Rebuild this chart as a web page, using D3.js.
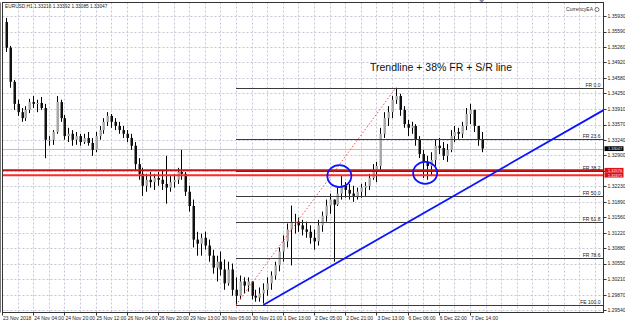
<!DOCTYPE html>
<html>
<head>
<meta charset="utf-8">
<script src="https://cdnjs.cloudflare.com/ajax/libs/d3/7.8.5/d3.min.js"></script>
<style>
body { margin: 0; background: #fff; }
svg { display: block; font-family: "Liberation Sans", Arial, sans-serif; }
</style>
</head>
<body>
<div id="chart"></div>
<script>
var symbolText = "EURUSD,H1 1.33216 1.33392 1.33085 1.33047";
var brandText = "CurrencyEA";
var titleText = "Trendline + 38% FR + S/R line";

// hourly candles, sampled every 2 hours; open = previous close
var firstOpen = 1.3580;
var highs = [
  1.3589,1.3528,1.3454,1.3411,1.3393,1.3397,1.3413,1.3419,1.3411,1.3417,
  1.3402,1.3332,1.3345,1.3419,1.3411,1.3378,1.3350,1.3345,1.3341,1.3337,
  1.3337,1.3341,1.3328,1.3341,1.3354,1.3371,1.3384,1.3380,1.3371,1.3363,
  1.3354,1.3345,1.3337,1.3319,1.3284,1.3263,1.3250,1.3254,1.3250,1.3254,
  1.3258,1.3289,1.3245,1.3250,1.3263,1.3302,1.3254,1.3224,1.3194,1.3124,
  1.3120,1.3124,1.3107,1.3085,1.3072,1.3081,1.3064,1.3059,1.3055,1.3025,
  1.3029,1.3025,1.3025,1.3016,1.2998,1.3003,1.3012,1.3025,1.3038,1.3059,
  1.3090,1.3116,1.3142,1.3181,1.3163,1.3155,1.3150,1.3146,1.3138,1.3129,
  1.3150,1.3168,1.3194,1.3207,1.3194,1.3220,1.3245,1.3232,1.3228,1.3224,
  1.3220,1.3228,1.3232,1.3250,1.3271,1.3276,1.3350,1.3384,1.3397,1.3419,
  1.3437,1.3424,1.3397,1.3367,1.3363,1.3358,1.3332,1.3302,1.3289,1.3297,
  1.3324,1.3328,1.3319,1.3315,1.3345,1.3354,1.3350,1.3363,1.3393,1.3402,
  1.3389,1.3354,1.3341];
var lows = [
  1.3515,1.3437,1.3389,1.3376,1.3363,1.3365,1.3382,1.3393,1.3384,1.3389,
  1.3284,1.3311,1.3313,1.3337,1.3363,1.3324,1.3319,1.3311,1.3313,1.3311,
  1.3315,1.3311,1.3289,1.3297,1.3324,1.3337,1.3354,1.3350,1.3345,1.3337,
  1.3328,1.3319,1.3302,1.3258,1.3237,1.3202,1.3211,1.3220,1.3215,1.3224,
  1.3215,1.3185,1.3211,1.3220,1.3228,1.3237,1.3202,1.3168,1.3090,1.3072,
  1.3072,1.3085,1.3059,1.3033,1.3016,1.3029,1.2998,1.3007,1.2985,1.2965,
  1.2977,1.2990,1.2994,1.2977,1.2972,1.2972,1.2968,1.2985,1.2998,1.3020,
  1.3038,1.3059,1.3090,1.3051,1.3120,1.3124,1.3116,1.3111,1.3098,1.3085,
  1.3094,1.3124,1.3146,1.3163,1.3059,1.3180,1.3194,1.3198,1.3194,1.3189,
  1.3194,1.3198,1.3202,1.3215,1.3237,1.3232,1.3254,1.3328,1.3354,1.3371,
  1.3402,1.3376,1.3350,1.3332,1.3337,1.3311,1.3284,1.3241,1.3237,1.3245,
  1.3267,1.3293,1.3280,1.3276,1.3297,1.3319,1.3324,1.3328,1.3345,1.3358,
  1.3341,1.3311,1.3297];
var closes = [
  1.3524,1.3450,1.3402,1.3384,1.3371,1.3389,1.3406,1.3402,1.3404,1.3393,
  1.3324,1.3324,1.3341,1.3406,1.3371,1.3332,1.3337,1.3324,1.3332,1.3319,
  1.3328,1.3317,1.3302,1.3332,1.3345,1.3363,1.3376,1.3363,1.3354,1.3345,
  1.3337,1.3328,1.3311,1.3271,1.3250,1.3224,1.3237,1.3232,1.3241,1.3237,
  1.3228,1.3220,1.3232,1.3237,1.3254,1.3250,1.3211,1.3180,1.3107,1.3098,
  1.3111,1.3094,1.3072,1.3046,1.3059,1.3042,1.3012,1.3042,1.2998,1.2985,
  1.3016,1.3007,1.3016,1.2985,1.2981,1.2990,1.2998,1.3012,1.3029,1.3051,
  1.3081,1.3103,1.3129,1.3146,1.3146,1.3138,1.3129,1.3124,1.3111,1.3103,
  1.3138,1.3159,1.3181,1.3194,1.3183,1.3207,1.3224,1.3215,1.3207,1.3202,
  1.3211,1.3220,1.3224,1.3241,1.3258,1.3267,1.3337,1.3371,1.3384,1.3411,
  1.3419,1.3389,1.3358,1.3350,1.3354,1.3324,1.3293,1.3276,1.3267,1.3280,
  1.3311,1.3306,1.3289,1.3302,1.3332,1.3341,1.3337,1.3354,1.3380,1.3389,
  1.3354,1.3324,1.3305];

var priceTicks = ["1.35930","1.35590","1.35260","1.34920","1.34580","1.34250","1.33910",
  "1.33570","1.33240","1.32900","1.32560","1.32230","1.31890","1.31560","1.31220",
  "1.30880","1.30550","1.30210","1.29870","1.29540"];
var timeLabels = ["23 Nov 2018","24 Nov 04:00","24 Nov 20:00","25 Nov 12:00","26 Nov 04:00",
  "26 Nov 20:00","29 Nov 13:00","30 Nov 05:00","30 Nov 21:00","1 Dec 13:00","2 Dec 05:00",
  "2 Dec 21:00","3 Dec 13:00","6 Dec 06:00","6 Dec 22:00","7 Dec 14:00"];

var frLevels = [0, 23.6, 38.2, 50, 61.8, 78.6, 100];
var frNames = ["FR 0.0","FR 23.6","FR 38.2","FR 50.0","FR 61.8","FR 78.6","FE 100.0"];
var fibFrom = 59, fibTo = 100;          // candle indices of swing low / high
var srLevels = [1.32576, 1.32471];
var lastPrice = 1.33047;
var trendPoints = [[134, 1.2965], [209, 1.3147]];   // [hour, price]
var circleCenters = [[173, 1.3245], [217, 1.3252]];  // [hour, price]

var W = 625, H = 323;
var pLeft = 2.5, pRight = 603.5, pTop = 2.5, pBottom = 312.5;

var svg = d3.select("#chart").append("svg")
  .attr("width", W).attr("height", H);

var x = d3.scaleLinear().domain([0, 240]).range([2, 470]);
var y = d3.scaleLinear().domain([1.29540, 1.35930]).range([310, 16]);
var hourOf = function(i){ return 2 + 2 * i; };
var rightHour = x.invert(pRight);

var candles = closes.map(function(c, i){
  return { i: i, o: i === 0 ? firstOpen : closes[i - 1], h: highs[i], l: lows[i], c: c };
});

svg.append("defs").append("clipPath").attr("id", "plot")
  .append("rect").attr("x", pLeft).attr("y", pTop)
  .attr("width", pRight - pLeft).attr("height", pBottom - pTop);

// grid
var grid = svg.append("g").attr("stroke", "#c6c6d6").attr("stroke-dasharray", "2,2")
  .attr("stroke-width", 1);
grid.selectAll(".hg").data(priceTicks).enter().append("line")
  .attr("x1", pLeft).attr("x2", pRight)
  .attr("y1", function(d){ return Math.round(y(+d)) + 0.5; })
  .attr("y2", function(d){ return Math.round(y(+d)) + 0.5; });
grid.selectAll(".vg").data(d3.range(8, rightHour, 8)).enter().append("line")
  .attr("y1", pTop).attr("y2", pBottom)
  .attr("x1", function(d){ return Math.round(x(d)) + 0.5; })
  .attr("x2", function(d){ return Math.round(x(d)) + 0.5; });

var plot = svg.append("g").attr("clip-path", "url(#plot)");

// bid line
plot.append("line").attr("x1", pLeft).attr("x2", pRight)
  .attr("y1", Math.round(y(lastPrice)) + 0.5).attr("y2", Math.round(y(lastPrice)) + 0.5)
  .attr("stroke", "#c0c0c0");

// candles
var cg = plot.append("g").selectAll("g").data(candles).enter().append("g");
cg.append("line")
  .attr("x1", function(d){ return Math.round(x(hourOf(d.i))) + 0.5; })
  .attr("x2", function(d){ return Math.round(x(hourOf(d.i))) + 0.5; })
  .attr("y1", function(d){ return y(d.h); })
  .attr("y2", function(d){ return y(d.l); })
  .attr("stroke", "#000").attr("stroke-width", 1);
cg.append("rect")
  .attr("x", function(d){ return Math.round(x(hourOf(d.i))) - 0.5; })
  .attr("width", 2.5)
  .attr("y", function(d){ return y(Math.max(d.o, d.c)); })
  .attr("height", function(d){ return Math.max(1, Math.abs(y(d.o) - y(d.c))); })
  .attr("fill", function(d){ return d.c >= d.o ? "#a8a8a8" : "#111"; });

// fibonacci
var fibHigh = d3.max(highs.slice(fibFrom, fibTo + 1));
var fibLow = d3.min(lows.slice(fibFrom, fibTo + 1));
var fibX = x(hourOf(fibFrom));
var fib = frLevels.map(function(lv, k){
  return { p: fibHigh - lv / 100 * (fibHigh - fibLow), name: frNames[k] };
});
plot.append("g").selectAll("line").data(fib).enter().append("line")
  .attr("x1", fibX).attr("x2", pRight)
  .attr("y1", function(d){ return Math.round(y(d.p)) + 0.5; })
  .attr("y2", function(d){ return Math.round(y(d.p)) + 0.5; })
  .attr("stroke", "#3a3a3a").attr("stroke-width", 1);
svg.append("g").selectAll("text").data(fib).enter().append("text")
  .attr("x", pRight - 3).attr("y", function(d){ return Math.round(y(d.p)) - 1; })
  .attr("text-anchor", "end").attr("font-size", 5).attr("fill", "#222")
  .text(function(d){ return d.name; });
plot.append("line")
  .attr("x1", fibX).attr("y1", y(fibLow))
  .attr("x2", x(hourOf(fibTo))).attr("y2", y(fibHigh))
  .attr("stroke", "#ff4a4a").attr("stroke-dasharray", "1.5,2").attr("stroke-width", 1);

// support / resistance lines
var srColors = ["#c41414", "#ff2a2a"];
plot.selectAll(".sr").data(srLevels).enter().append("line")
  .attr("x1", pLeft).attr("x2", pRight)
  .attr("y1", function(d){ return y(d); }).attr("y2", function(d){ return y(d); })
  .attr("stroke", function(d, k){ return srColors[k]; }).attr("stroke-width", 2);

// trendline extended to the right edge
var slope = (trendPoints[1][1] - trendPoints[0][1]) / (trendPoints[1][0] - trendPoints[0][0]);
var endPrice = trendPoints[0][1] + slope * (rightHour - trendPoints[0][0]);
plot.append("line")
  .attr("x1", x(trendPoints[0][0])).attr("y1", y(trendPoints[0][1]))
  .attr("x2", pRight).attr("y2", y(endPrice))
  .attr("stroke", "#0a14ff").attr("stroke-width", 1.8);

plot.selectAll("ellipse").data(circleCenters).enter().append("ellipse")
  .attr("cx", function(d){ return x(d[0]); }).attr("cy", function(d){ return y(d[1]); })
  .attr("rx", 12).attr("ry", 11)
  .attr("fill", "none").attr("stroke", "#0a14ff").attr("stroke-width", 1.8);

// title and corner texts
svg.append("text").attr("x", 370).attr("y", 71).attr("font-size", 10.5).attr("fill", "#111")
  .text(titleText);
svg.append("text").attr("x", 5).attr("y", 8).attr("font-size", 4.8).attr("fill", "#222")
  .text(symbolText);
svg.append("text").attr("x", 593).attr("y", 11).attr("font-size", 5).attr("fill", "#333")
  .attr("text-anchor", "end").text(brandText);
svg.append("circle").attr("cx", 597).attr("cy", 9.5).attr("r", 2)
  .attr("fill", "#fff").attr("stroke", "#555").attr("stroke-width", 0.8);
var lastX = x(hourOf(closes.length - 1));
svg.append("path").attr("d", d3.line()([[lastX - 2.5, 0], [lastX + 2.5, 0], [lastX, 3]]))
  .attr("fill", "#8888aa");

// frame
svg.append("rect").attr("x", pLeft).attr("y", pTop)
  .attr("width", pRight - pLeft).attr("height", pBottom - pTop)
  .attr("fill", "none").attr("stroke", "#333").attr("stroke-width", 1);
svg.append("line").attr("x1", 0.5).attr("x2", 0.5).attr("y1", pTop).attr("y2", pBottom)
  .attr("stroke", "#777");

// axis price tags (drawn over the scale, so scale labels under them are skipped)
var tags = srLevels.map(function(p){ return { p: p, bg: "#e01010" }; })
  .concat([{ p: lastPrice, bg: "#000" }]);
var hidden = function(d){
  return tags.some(function(t){ return Math.abs(y(t.p) - y(+d)) < 5; });
};

// price axis
var ya = svg.append("g");
ya.selectAll("line").data(priceTicks).enter().append("line")
  .attr("x1", pRight).attr("x2", pRight + 3)
  .attr("y1", function(d){ return Math.round(y(+d)) + 0.5; })
  .attr("y2", function(d){ return Math.round(y(+d)) + 0.5; })
  .attr("stroke", "#333");
ya.selectAll("text").data(priceTicks.filter(function(d){ return !hidden(d); }))
  .enter().append("text")
  .attr("x", pRight + 4).attr("y", function(d){ return y(+d) + 1.8; })
  .attr("font-size", 5).attr("fill", "#222").text(function(d){ return d; });

var tg = svg.append("g").selectAll("g").data(tags).enter().append("g");
tg.append("rect").attr("x", pRight + 1).attr("width", 19)
  .attr("y", function(d){ return y(d.p) - 2.4; }).attr("height", 4.8)
  .attr("fill", function(d){ return d.bg; });
tg.append("text").attr("x", pRight + 4.5).attr("y", function(d){ return y(d.p) + 1.4; })
  .attr("font-size", 3.9).attr("fill", "#fff").text(function(d){ return d.p.toFixed(5); });

// time axis
var xa = svg.append("g");
xa.selectAll("line").data(timeLabels).enter().append("line")
  .attr("x1", function(d, k){ return Math.round(x(k * 16)) + 0.5; })
  .attr("x2", function(d, k){ return Math.round(x(k * 16)) + 0.5; })
  .attr("y1", pBottom).attr("y2", pBottom + 3).attr("stroke", "#333");
xa.selectAll("text").data(timeLabels).enter().append("text")
  .attr("x", function(d, k){ return x(k * 16) + 1; }).attr("y", 319.5)
  .attr("font-size", 5).attr("fill", "#222").text(function(d){ return d; });
</script>
</body>
</html>
